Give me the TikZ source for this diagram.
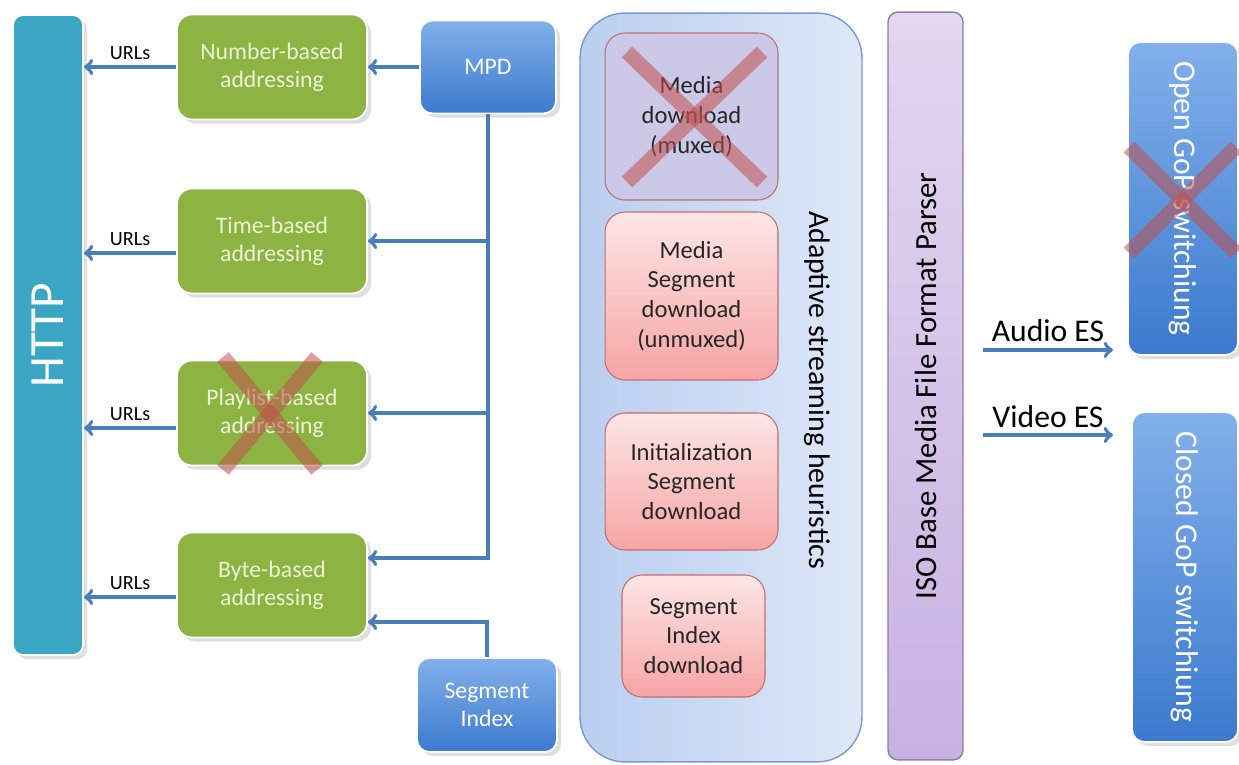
\documentclass[tikz,border=0pt]{standalone}
\usepackage{fontspec}
\setmainfont{Carlito}
\usetikzlibrary{calc,shadows}

\definecolor{httpteal}{RGB}{58,166,196}
\definecolor{addrgreen}{RGB}{141,180,67}
\definecolor{addrtext}{RGB}{236,242,214}
\definecolor{mpdtop}{RGB}{130,176,234}
\definecolor{mpdbot}{RGB}{60,122,206}
\definecolor{linkblue}{RGB}{74,126,187}
\definecolor{heurleft}{RGB}{186,206,240}
\definecolor{heurright}{RGB}{222,232,248}
\definecolor{heurline}{RGB}{120,154,206}
\definecolor{dltop}{RGB}{253,230,230}
\definecolor{dlbot}{RGB}{246,164,164}
\definecolor{dlline}{RGB}{196,110,110}
\definecolor{muxfill}{RGB}{204,200,232}
\definecolor{isotop}{RGB}{226,214,240}
\definecolor{isobot}{RGB}{200,178,226}
\definecolor{isoline}{RGB}{140,124,166}
\definecolor{crossred}{RGB}{192,80,77}

\begin{document}
\begin{tikzpicture}[x=0.02cm, y=-0.02cm,
  addr/.style={rectangle, rounded corners=0.3cm, fill=addrgreen, draw=white, line width=1pt,
    drop shadow={opacity=0.25}, minimum width=3.8cm, minimum height=2.1cm, align=center,
    text=addrtext, font=\fontsize{13.5}{16}\selectfont},
  bluebox/.style={rectangle, rounded corners=0.25cm, top color=mpdtop, bottom color=mpdbot,
    draw=white, line width=1pt, drop shadow={opacity=0.25}, align=center, text=white,
    font=\fontsize{13.5}{16}\selectfont},
  dl/.style={rectangle, rounded corners=0.4cm, top color=dltop, bottom color=dlbot, draw=dlline,
    line width=0.6pt, minimum width=3.46cm, align=center, text=black!85,
    font=\fontsize{14}{17}\selectfont},
  link/.style={draw=linkblue, line width=2.2pt},
  urls/.style={above, text=black, font=\fontsize{11.5}{13}\selectfont},
  xbar/.style={line width=8.5pt, draw=crossred, draw opacity=0.55},
  vtext/.style={font=\fontsize{18}{20}\selectfont}]
%\draw[very thin,color=gray] (0,0) grid[step=50] (1239,764);
\useasboundingbox (0,0) rectangle (1239,764);

\node (http) [rectangle, rounded corners=0.2cm, fill=httpteal, draw=white, line width=1pt,
  drop shadow={opacity=0.25}, minimum width=1.4cm, minimum height=12.8cm] at (48,335) {};
\node (httptext) [rotate=90, text=white, font=\fontsize{28}{30}\selectfont] at (http) {HTTP};

\node (numb) [addr] at (272,67) {Number-based\\addressing};
\node (timeb) [addr] at (272,241) {Time-based\\addressing};
\node (playb) [addr] at (272,413) {Playlist-based\\addressing};
\node (byteb) [addr] at (272,585) {Byte-based\\addressing};

\node (mpd) [bluebox, minimum width=2.72cm, minimum height=1.86cm] at (488,67) {MPD};
\node (sidx) [bluebox, minimum width=2.8cm, minimum height=1.88cm] at (487,705) {Segment\\Index};

% urls to http
\draw[link,->] (numb.west) -- node[urls] {URLs} (numb.west -| http.east);
\draw[link,->] ($(timeb.west)+(0,12)$) -- node[urls] {URLs} ($(timeb.west -| http.east)+(0,12)$);
\draw[link,->] ($(playb.west)+(0,15)$) -- node[urls] {URLs} ($(playb.west -| http.east)+(0,15)$);
\draw[link,->] ($(byteb.west)+(0,12)$) -- node[urls] {URLs} ($(byteb.west -| http.east)+(0,12)$);

% mpd tree
\draw[link,->] (mpd.west) -- (numb.east);
\draw[link,->] (mpd.south) |- ($(byteb.east)+(0,-27)$);
\draw[link,->] (mpd.south |- timeb.east) -- (timeb.east);
\draw[link,->] (mpd.south |- playb.east) -- (playb.east);
\draw[link,->] (sidx.north) |- ($(byteb.east)+(0,37)$);

% heuristics panel
\node (heur) [rectangle, rounded corners=0.9cm, left color=heurleft, right color=heurright,
  draw=heurline, line width=0.8pt, minimum width=5.64cm, minimum height=14.98cm] at (721,387.5) {};
\node (heurtext) [rotate=-90, font=\fontsize{17}{19}\selectfont] at (817,390) {Adaptive streaming heuristics};

\node (muxed) [dl, fill=muxfill, top color=muxfill, bottom color=muxfill, minimum height=3.34cm] at (691.5,116.5) {Media\\download\\(muxed)};
\node (unmuxed) [dl, minimum height=3.36cm] at (691.5,296) {Media\\Segment\\download\\(unmuxed)};
\node (init) [dl, minimum height=2.74cm] at (691.5,481.5) {Initialization\\Segment\\download};
\node (sidxdl) [dl, minimum width=2.86cm, minimum height=2.44cm] at (693.5,636) {Segment\\Index\\download};

% parser
\node (iso) [rectangle, rounded corners=0.2cm, top color=isotop, bottom color=isobot,
  draw=isoline, line width=0.8pt, minimum width=1.5cm, minimum height=14.96cm] at (925.5,386) {};
\node (isotext) [rotate=90, font=\fontsize{17.5}{19}\selectfont] at (iso) {ISO Base Media File Format Parser};

% switching
\node (opengop) [bluebox, minimum width=2.2cm, minimum height=6.26cm] at (1183,198.5) {};
\node (opentext) [rotate=-90, text=white, vtext] at (opengop) {Open GoP switchiung};
\node (closedgop) [bluebox, minimum width=2.12cm, minimum height=6.6cm] at (1185,577) {};
\node (closedtext) [rotate=-90, text=white, vtext] at (closedgop) {Closed GoP switchiung};

\coordinate (audioin) at (983,350);
\coordinate (audioout) at (1113,350);
\coordinate (videoin) at (983,435);
\coordinate (videoout) at (1113,435);
\draw[link,->] (audioin) -- node[above, vtext] {Audio ES} (audioout);
\draw[link,->] (videoin) -- node[above, vtext] {Video ES} (videoout);

% crossed out
\draw[xbar] (223,357) -- (317,470);
\draw[xbar] (317,357) -- (223,470);
\draw[xbar] (627,52) -- (762,182);
\draw[xbar] (762,52) -- (627,182);
\draw[xbar] (1129,147) -- (1236,253);
\draw[xbar] (1236,147) -- (1129,253);

\end{tikzpicture}
\end{document}
